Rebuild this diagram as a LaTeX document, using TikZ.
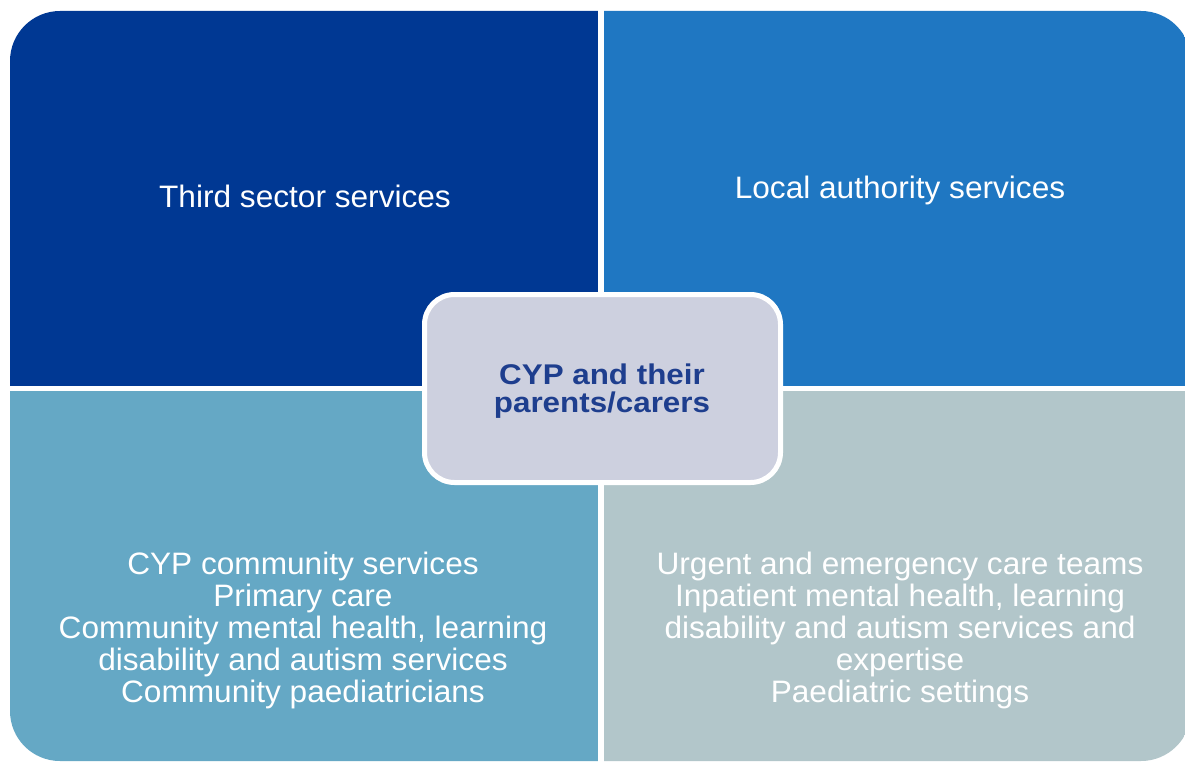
\documentclass[tikz,border=0pt]{standalone}
\usepackage{fontspec}
\setmainfont{Liberation Sans}
\newfontfamily\quadfont[FakeStretch=1.02]{Liberation Sans}
\newfontfamily\hubfont[FakeStretch=1.1]{Liberation Sans Bold}
\definecolor{thirdsector}{RGB}{0,56,147}
\definecolor{localauth}{RGB}{31,119,194}
\definecolor{community}{RGB}{101,168,197}
\definecolor{acute}{RGB}{178,198,202}
\definecolor{hubfill}{RGB}{205,208,223}
\definecolor{hubtext}{RGB}{30,62,142}
\begin{document}
\begin{tikzpicture}[x=1pt,y=-1pt,
  quadtext/.style={text=white,align=center,inner sep=0pt,
    font=\quadfont\fontsize{31}{32}\selectfont},
  hubtext/.style={text=hubtext,align=center,inner sep=0pt,
    font=\hubfont\fontsize{28.5}{28}\selectfont}]
\useasboundingbox (0,0) rectangle (1185,765);
\fill[white] (0,0) rectangle (1185,765);
% four service quadrants inside one rounded outline
\begin{scope}
  \clip[rounded corners=50pt] (10,11) rectangle (1191,761);
  \fill[thirdsector] (0,0) rectangle (598,386);
  \fill[localauth] (604,0) rectangle (1200,386);
  \fill[community] (0,391) rectangle (598,770);
  \fill[acute] (604,391) rectangle (1200,770);
\end{scope}
% quadrant labels
\node[quadtext,anchor=base] (third) at (305,207) {Third sector services};
\node[quadtext,anchor=base] (local) at (900,198) {Local authority services};
\node[quadtext] (comm) at (303,630) {CYP community services\\Primary care\\Community mental health, learning\\disability and autism services\\Community paediatricians};
\node[quadtext] (urgent) at (900,630) {Urgent and emergency care teams\\Inpatient mental health, learning\\disability and autism services and\\expertise\\Paediatric settings};
% central box
\draw[white,line width=5pt,fill=hubfill,rounded corners=30pt] (424.5,294.5) rectangle (780.5,482.5);
\node[hubtext] (hub) at (602,391.5) {CYP and their\\parents/carers};
\end{tikzpicture}
\end{document}
